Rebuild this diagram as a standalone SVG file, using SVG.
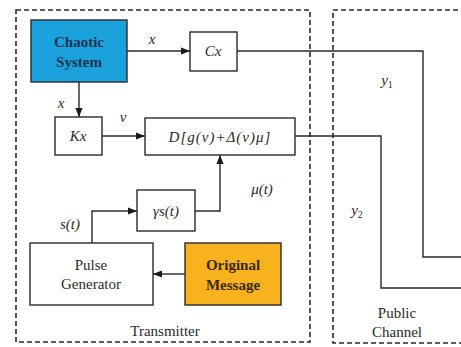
<svg xmlns="http://www.w3.org/2000/svg" width="461" height="347" viewBox="0 0 461 347">
<style>
.box{fill:#fff;stroke:#2a2a2a;stroke-width:1.4}
.dash{fill:none;stroke:#2a2a2a;stroke-width:1.6;stroke-dasharray:5,3}
.wire{fill:none;stroke:#2a2a2a;stroke-width:1.4}
text{font-family:"Times New Roman","Liberation Serif","Noto Serif","DejaVu Serif",Times,serif}
.t{font-size:15px;fill:#2a2a2a;text-anchor:middle}
.b{font-weight:bold}
.m{font-style:italic;font-size:15px;fill:#2a2a2a;text-anchor:middle}
</style>
<defs>
<marker id="ah" viewBox="0 0 10 10" refX="10" refY="5" markerWidth="9" markerHeight="9" markerUnits="userSpaceOnUse" orient="auto">
<path d="M0,1 L10,5 L0,9 Z" fill="#1a1a1a"/>
</marker>
</defs>
<rect width="461" height="347" fill="#fff"/>
<g id="transmitter">
<rect class="dash" x="16" y="10" width="294" height="332"/>
<text class="t" x="165" y="336">Transmitter</text>
</g>
<g id="public-channel">
<rect class="dash" x="333" y="10" width="135" height="333"/>
<text class="t" x="397" y="318">Public</text>
<text class="t" x="397" y="337">Channel</text>
</g>
<g id="connectors">
<path class="wire" d="M127,51 H190" marker-end="url(#ah)"/>
<text class="m" x="152" y="44">x</text>
<path class="wire" d="M79,82 V117" marker-end="url(#ah)"/>
<text class="m" x="61" y="108">x</text>
<path class="wire" d="M102,136 H145" marker-end="url(#ah)"/>
<text class="m" x="123" y="122">v</text>
<path class="wire" d="M195,211 H220 V155" marker-end="url(#ah)"/>
<text class="m" x="262" y="194">μ(t)</text>
<path class="wire" d="M92,243 V211 H137" marker-end="url(#ah)"/>
<text class="m" x="70" y="229">s(t)</text>
<path class="wire" d="M185,274 H153" marker-end="url(#ah)"/>
<path class="wire" d="M237,51 H423 V257 H461"/>
<text class="m" x="387" y="85">y<tspan font-size="10" font-style="normal" dy="3">1</tspan></text>
<path class="wire" d="M295,136 H381 V288 H461"/>
<text class="m" x="357" y="215">y<tspan font-size="10" font-style="normal" dy="3">2</tspan></text>
</g>
<g id="chaotic-system">
<rect class="box" x="31" y="20" width="96" height="62" style="fill:#1ba1db"/>
<text class="t b" x="79" y="47" style="fill:#1c3553">Chaotic</text>
<text class="t b" x="79" y="67" style="fill:#1c3553">System</text>
</g>
<g id="cx">
<rect class="box" x="190" y="32" width="47" height="39"/>
<text class="m" x="213" y="56">Cx</text>
</g>
<g id="kx">
<rect class="box" x="55" y="117" width="47" height="38"/>
<text class="m" x="78" y="141">Kx</text>
</g>
<g id="d-block">
<rect class="box" x="145" y="118" width="150" height="37"/>
<text class="m" x="220" y="142" letter-spacing="1">D[g(v)+Δ(v)μ]</text>
</g>
<g id="gamma-s">
<rect class="box" x="137" y="190" width="58" height="41"/>
<text class="m" x="166" y="216">γs(t)</text>
</g>
<g id="pulse-generator">
<rect class="box" x="30" y="243" width="123" height="62"/>
<text class="t" x="91" y="270">Pulse</text>
<text class="t" x="91" y="289">Generator</text>
</g>
<g id="original-message">
<rect class="box" x="185" y="243" width="96" height="62" style="fill:#f7b21e"/>
<text class="t b" x="233" y="270" style="fill:#3a2a12">Original</text>
<text class="t b" x="233" y="290" style="fill:#3a2a12">Message</text>
</g>
</svg>
